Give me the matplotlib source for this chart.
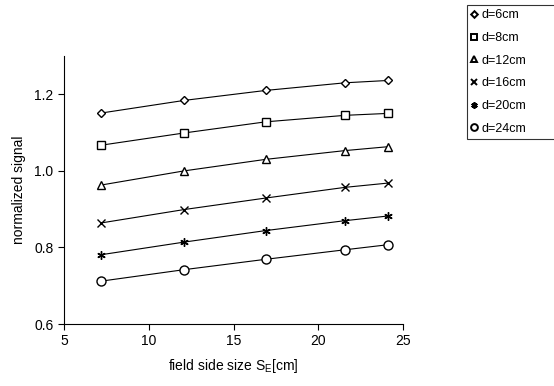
import matplotlib.pyplot as plt

plt.rcParams['font.family'] = ['Liberation Sans', 'DejaVu Sans']

field_size = [7.2, 12.1, 16.9, 21.6, 24.1]
labels = ["d=6cm", "d=8cm", "d=12cm", "d=16cm", "d=20cm", "d=24cm"]
d6 = [1.151, 1.184, 1.210, 1.230, 1.236]
d8 = [1.067, 1.099, 1.128, 1.145, 1.150]
d12 = [0.963, 1.000, 1.030, 1.053, 1.063]
d16 = [0.864, 0.899, 0.929, 0.957, 0.968]
d20 = [0.781, 0.814, 0.844, 0.870, 0.882]
d24 = [0.712, 0.742, 0.769, 0.794, 0.807]
series = [d6, d8, d12, d16, d20, d24]
markers = ["D", "s", "^", "x", (6, 2, 0), "o"]
sizes = [4.5, 6, 6, 5.5, 6, 6.5]

fig = plt.figure(figsize=(5.54, 3.86), dpi=100)
ax = fig.add_axes([0.1155, 0.1606, 0.612, 0.6944])

handles = []
for vals, lab, m, s in zip(series, labels, markers, sizes):
    ax.plot(field_size, vals, color="black", lw=0.8)
    h, = ax.plot(field_size, vals, ls="none", marker=m, ms=s, mfc="white",
                 mec="black", mew=1.0, label=lab)
    handles.append(h)

ax.set_xlim(5, 25)
ax.set_ylim(0.6, 1.3)
ax.set_xticks([5, 10, 15, 20, 25])
ax.set_yticks([0.6, 0.8, 1.0, 1.2])
ax.set_yticklabels(["0.6", "0.8", "1.0", "1.2"])
ax.spines["top"].set_visible(False)
ax.spines["right"].set_visible(False)
ax.tick_params(labelsize=10, length=4, width=0.8, direction="out")
ax.set_xlabel("field side size S$_\\mathregular{E}$[cm]", fontsize=10, labelpad=6)
ax.set_ylabel("normalized signal", fontsize=10, labelpad=6)

# legend box runs off the right edge in the original
leg = fig.legend(handles=handles, loc="upper left",
                 bbox_to_anchor=(467 / 554, 0, 0.2, 1 - 5 / 386), mode="expand",
                 borderaxespad=0, fontsize=9, frameon=True, fancybox=False,
                 edgecolor="black", handlelength=0.4, handletextpad=0.38,
                 labelspacing=0.85, borderpad=0.35, markerscale=0.75)
leg.get_frame().set_linewidth(0.8)
for h in leg.legend_handles:
    h.set_markeredgewidth(1.4)

fig.savefig("out.png", dpi=100)
